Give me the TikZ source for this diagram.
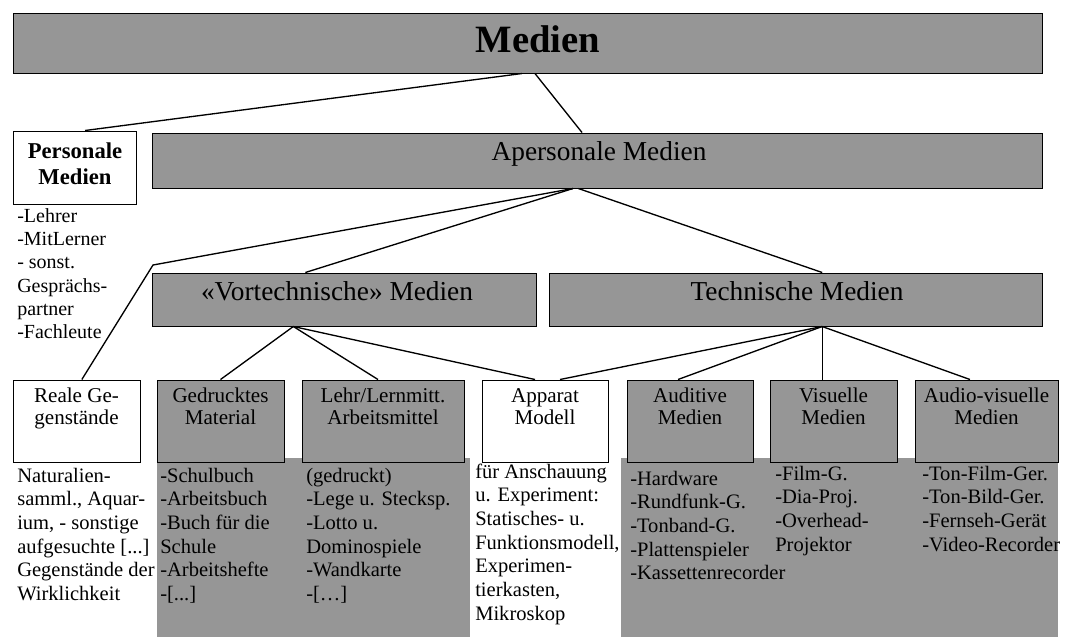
\documentclass[tikz,border=0pt]{standalone}
\usepackage{fontspec}
\setmainfont{Liberation Serif}
\usetikzlibrary{fit,calc}
\definecolor{panel}{RGB}{150,150,150}
% stacked lines with the first baseline as reference
\newcommand{\stackL}[1]{\begin{tabular}[t]{@{}l@{}}#1\end{tabular}}
\newcommand{\stackC}[1]{\begin{tabular}[t]{@{}c@{}}#1\end{tabular}}
\begin{document}
\begin{tikzpicture}[x=0.75pt,y=-0.75pt,
  gbox/.style={draw=black, line width=0.75pt, fill=panel, inner sep=0pt},
  wbox/.style={draw=black, line width=0.75pt, fill=white, inner sep=0pt},
  link/.style={line width=1pt, black},
  listtext/.style={anchor=base west, inner sep=0pt, font=\fontsize{15.4}{17.8}\selectfont},
  subtitle/.style={anchor=base, inner sep=0pt, font=\fontsize{15.8}{16.5}\selectfont},
  midtitle/.style={anchor=base, inner sep=0pt, font=\fontsize{20.5}{24}\selectfont},
]
\fill[white] (0,0) rectangle (1070,637);
\useasboundingbox (0,0) rectangle (1070,637);

% shaded columns under the lower boxes
\fill[panel] (157,458) rectangle (470,637);
\fill[panel] (621,458) rectangle (1058,637);

% boxes
\node[gbox, fit={(13,13) (1042,73)}] (medien) {};
\node[wbox, fit={(13,131) (136,204)}] (pers) {};
\node[gbox, fit={(152,133) (1042,188)}] (aper) {};
\node[gbox, fit={(152,273) (536,326)}] (vort) {};
\node[gbox, fit={(549,273) (1042,326)}] (tech) {};
\node[wbox, fit={(13,380) (140,462)}] (reale) {};
\node[gbox, fit={(157,380) (284,462)}] (ged) {};
\node[gbox, fit={(302,380) (464,462)}] (lehr) {};
\node[wbox, fit={(482,380) (608,462)}] (app) {};
\node[gbox, fit={(627,380) (753,462)}] (aud) {};
\node[gbox, fit={(770,380) (897,462)}] (vis) {};
\node[gbox, fit={(915,380) (1058,462)}] (av) {};

% titles
\node[anchor=base, inner sep=0pt, font=\bfseries\fontsize{29}{34}\selectfont] (tMedien) at (538,52) {Medien};
\node[anchor=base, inner sep=0pt, font=\bfseries\fontsize{17}{19.5}\selectfont] (tPers) at (75,158) {\stackC{Personale\\Medien}};
\node[midtitle] (tAper) at (599,160) {Apersonale Medien};
\node[midtitle] (tVort) at (337,300) {«Vortechnische» Medien};
\node[midtitle] (tTech) at (797,300) {Technische Medien};

\node[subtitle] (tReale) at ([yshift=-17.25pt]reale.north) {\stackC{Reale Ge-\\genstände}};
\node[subtitle] (tGed) at ([yshift=-17.25pt]ged.north) {\stackC{Gedrucktes\\Material}};
\node[subtitle] (tLehr) at ([yshift=-17.25pt]lehr.north) {\stackC{Lehr/Lernmitt.\\Arbeitsmittel}};
\node[subtitle] (tApp) at ([yshift=-17.25pt]app.north) {\stackC{Apparat\\Modell}};
\node[subtitle] (tAud) at ([yshift=-17.25pt]aud.north) {\stackC{Auditive\\Medien}};
\node[subtitle] (tVis) at ([yshift=-17.25pt]vis.north) {\stackC{Visuelle\\Medien}};
\node[subtitle] (tAv) at ([yshift=-17.25pt]av.north) {\stackC{Audio-visuelle\\Medien}};

% lists
\node[listtext, font=\fontsize{15}{17.5}\selectfont] (lPers) at (17,222) {\stackL{-Lehrer\\-MitLerner\\- sonst.\\Gesprächs-\\partner\\-Fachleute}};
\node[listtext] (lReale) at (17,482) {\stackL{Naturalien-\\samml., Aquar-\\ium, - sonstige\\aufgesuchte [...]\\Gegenstände der\\Wirklichkeit}};
\node[listtext] (lGed) at (160,482) {\stackL{-Schulbuch\\-Arbeitsbuch\\-Buch für die\\Schule\\-Arbeitshefte\\-[...]}};
\node[listtext] (lLehr) at (306,482) {\stackL{(gedruckt)\\-Lege u. Stecksp.\\-Lotto u.\\Dominospiele\\-Wandkarte\\-[…]}};
\node[listtext] (lApp) at (475,478) {\stackL{für Anschauung\\u. Experiment:\\Statisches- u.\\Funktionsmodell,\\Experimen-\\tierkasten,\\Mikroskop}};
\node[listtext] (lAud) at (630,485) {\stackL{-Hardware\\-Rundfunk-G.\\-Tonband-G.\\-Plattenspieler\\-Kassettenrecorder}};
\node[listtext] (lVis) at (775,480) {\stackL{-Film-G.\\-Dia-Proj.\\-Overhead-\\Projektor}};
\node[listtext] (lAv) at (922,480) {\stackL{-Ton-Film-Ger.\\-Ton-Bild-Ger.\\-Fernseh-Gerät\\-Video-Recorder}};

% connectors
\coordinate (bend) at (153,265);
\draw[link] ([xshift=-4.1pt]medien.south) -- ([xshift=7.9pt]pers.north);
\draw[link] ([xshift=5.6pt]medien.south) -- ([xshift=-11.25pt]aper.north);
\draw[link] ([xshift=-18pt]aper.south) -- (bend) -- ([xshift=4pt]reale.north);
\draw[link] ([xshift=-18pt]aper.south) -- ([xshift=-29pt]vort.north);
\draw[link] ([xshift=-14pt]aper.south) -- ([xshift=20pt]tech.north);
\draw[link] ([xshift=-38pt]vort.south) -- (ged.north);
\draw[link] ([xshift=-38pt]vort.south) -- ([xshift=-3.75pt]lehr.north);
\draw[link] ([xshift=-38pt]vort.south) -- ([xshift=-7.5pt]app.north);
\draw[link] ([xshift=20pt]tech.south) -- ([xshift=11.25pt]app.north);
\draw[link] ([xshift=20pt]tech.south) -- ([xshift=-9pt]aud.north);
\draw[link] ([xshift=20pt]tech.south) -- ([xshift=20pt]tech.south |- vis.north);
\draw[link] ([xshift=20pt]tech.south) -- ([xshift=-12.4pt]av.north);
\end{tikzpicture}
\end{document}
